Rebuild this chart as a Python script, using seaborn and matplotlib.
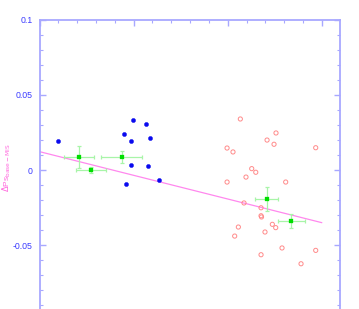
import matplotlib
matplotlib.use("Agg")
import matplotlib.pyplot as plt
import seaborn as sns
import numpy as np
import pandas as pd
from matplotlib.ticker import MultipleLocator

# ---- data ----
blue_x = [0.193, 0.994, 1.132, 0.895, 0.972, 1.174, 0.972, 1.153, 0.916, 1.273]
blue_y = [0.0193, 0.0330, 0.0308, 0.0237, 0.0195, 0.0215, 0.0035, 0.0027, -0.0091, -0.0068]

red_x = [2.134, 2.513, 2.418, 2.492, 1.993, 2.056, 2.935, 2.255, 2.298, 2.194,
         1.993, 2.616, 2.173, 2.354, 2.354, 2.359, 2.113, 2.474, 2.510, 2.396,
         2.074, 2.577, 2.935, 2.354, 2.779]
red_y = [0.0339, 0.0246, 0.0199, 0.0171, 0.0146, 0.0120, 0.0148, 0.0009, -0.0015, -0.0047,
         -0.0080, -0.0080, -0.0219, -0.0251, -0.0304, -0.0312, -0.0379, -0.0361, -0.0383, -0.0412,
         -0.0439, -0.0518, -0.0534, -0.0563, -0.0623]

bin_x = [0.417, 0.550, 0.874, 2.414, 2.676]
bin_y = [0.0086, 0.0000, 0.0088, -0.0195, -0.0337]
bin_xerr = [0.160, 0.159, 0.216, 0.120, 0.142]
bin_yerr = [0.0073, 0.0022, 0.0040, 0.0079, 0.0047]

fit_x = [0.0, 3.0]
fit_y = [0.0122, -0.0350]

ytick_vals = [0.1, 0.05, 0.0, -0.05]
ytick_labels = ["0.1", "0.05", "0", "-0.05"]
ylabel = r"$\Delta$Ps$_{\rm base-MIS}$"

# ---- figure ----
sns.set_theme(style="white")
plt.rcParams["font.family"] = ["Liberation Sans", "DejaVu Sans"]

W, H = 359, 309
fig = plt.figure(figsize=(W / 100, H / 100), dpi=100)
left = 39.5 / W
right = 340.0 / W
top = 1 - 19.5 / H
bottom = 1 - 320.5 / H
ax = fig.add_axes([left, bottom, right - left, top - bottom])

axis_col = "#a8a8ff"
for s in ax.spines.values():
    s.set_color(axis_col)
    s.set_linewidth(1.3)

df_fit = pd.DataFrame({"x": fit_x, "y": fit_y})
sns.lineplot(data=df_fit, x="x", y="y", ax=ax, color="#ff88ee", lw=0.9, zorder=2)

ax.errorbar(bin_x, bin_y, xerr=bin_xerr, yerr=bin_yerr, fmt="none",
            ecolor="#a8f5a8", elinewidth=0.9, capsize=1.6, capthick=0.9, zorder=3)

df_blue = pd.DataFrame({"x": blue_x, "y": blue_y})
sns.scatterplot(data=df_blue, x="x", y="y", ax=ax, color="#0a0aee", s=9,
                edgecolor="#0a0aee", linewidth=0.3, zorder=4)

df_red = pd.DataFrame({"x": red_x, "y": red_y})
sns.scatterplot(data=df_red, x="x", y="y", ax=ax, facecolor="none",
                edgecolor="#ff8a8a", s=9, linewidth=0.7, zorder=4)

df_bin = pd.DataFrame({"x": bin_x, "y": bin_y})
sns.scatterplot(data=df_bin, x="x", y="y", ax=ax, color="#00dd00", marker="s",
                s=6, edgecolor="#00dd00", linewidth=0.2, zorder=5)

ax.set_xlim(0, 3.193)
ax.set_ylim(-0.1, 0.1)

ax.xaxis.set_major_locator(MultipleLocator(1.0))
ax.xaxis.set_minor_locator(MultipleLocator(0.2))
ax.set_yticks(ytick_vals)
ax.set_yticklabels(ytick_labels)
ax.yaxis.set_minor_locator(MultipleLocator(0.01))

ax.tick_params(axis="both", which="both", direction="in", colors=axis_col,
               top=True, right=True, bottom=True, left=True)
ax.tick_params(axis="both", which="major", length=4.0, width=1.0)
ax.tick_params(axis="both", which="minor", length=2.0, width=0.8)
ax.tick_params(axis="x", labelbottom=False, labeltop=False)
ax.tick_params(axis="y", labelleft=True, labelright=False, labelcolor="#3b3bff",
               labelsize=6.3, pad=5)

ax.set_xlabel("")
ax.set_ylabel("")
fig.text(6.5 / W, 1 - 168 / H, ylabel, rotation=90, color="#ff66dd",
         fontsize=6, ha="center", va="center")

fig.savefig("out.png", dpi=100)
